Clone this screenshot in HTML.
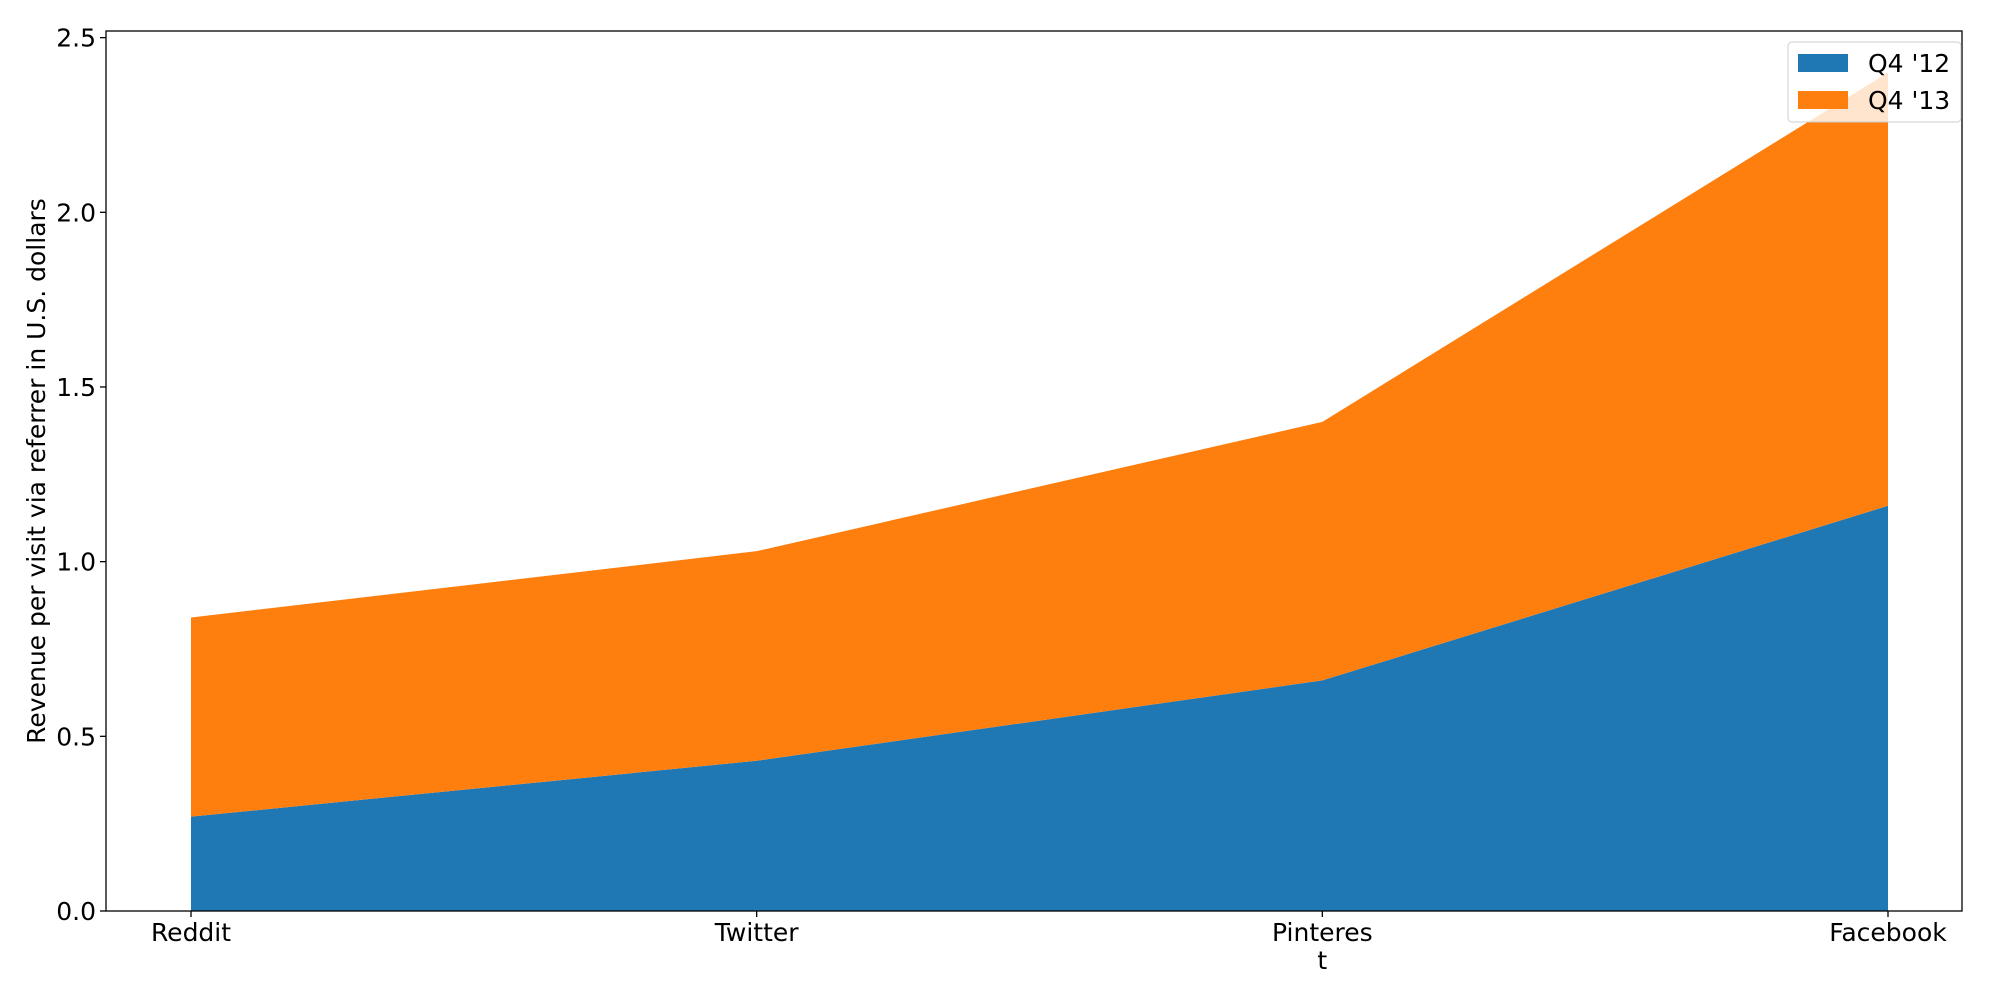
<!DOCTYPE html>
<html><head><meta charset="utf-8"><style>
body{margin:0;background:#fff}
svg text{font-family:"DejaVu Sans","Liberation Sans",sans-serif;fill:#000}
</style></head><body>
<svg id="chart" width="2000" height="1000"></svg>
<script>
const categories=["Reddit","Twitter","Pinteres\nt","Facebook"];
const q412=[0.27,0.43,0.66,1.16];
const q413=[0.57,0.60,0.74,1.24];
const yTicks=[0,0.5,1.0,1.5,2.0,2.5];
const yTickLabels=["0.0","0.5","1.0","1.5","2.0","2.5"];
const L=106,R=1962,T=31,B=911,yMax=2.519;
const x0=191,x1=1888;
const svg=document.getElementById('chart');
const NS='http://www.w3.org/2000/svg';
function xs(i){return x0+(x1-x0)*i/(categories.length-1);}
function ys(v){return B-(B-T)*v/yMax;}
function mk(t,a){const e=document.createElementNS(NS,t);for(const k in a)e.setAttribute(k,a[k]);svg.appendChild(e);return e;}
const top1=q412.map(v=>v), top2=q412.map((v,i)=>v+q413[i]);
function area(lo,hi){let p='';hi.forEach((v,i)=>p+=(i?'L':'M')+xs(i)+','+ys(v));for(let i=lo.length-1;i>=0;i--)p+='L'+xs(i)+','+ys(lo[i]);return p+'Z';}
const a1=mk('path',{d:area(q412.map(()=>0),top1),fill:'#1f77b4'});


const a2=mk('path',{d:area(top1,top2),fill:'#ff7f0e'});


const fr=mk('rect',{x:L,y:T,width:R-L,height:B-T,fill:'none',stroke:'#000','stroke-width':1.3});


yTicks.forEach((v,i)=>{
  mk('line',{x1:L-6,x2:L,y1:ys(v),y2:ys(v),stroke:'#000','stroke-width':1.3});
  const t=mk('text',{x:L-10,y:ys(v)+9,'text-anchor':'end','font-size':25});
  t.textContent=yTickLabels[i];
  
  
});
categories.forEach((c,i)=>{
  mk('line',{x1:xs(i),x2:xs(i),y1:B,y2:B+6,stroke:'#000','stroke-width':1.3});
  c.split('\n').forEach((ln,j)=>{
    const t=mk('text',{x:xs(i),y:B+30+j*28,'text-anchor':'middle','font-size':25});
    t.textContent=ln;
    
    
  });
});
const yl=mk('text',{x:0,y:0,'text-anchor':'middle','font-size':25,transform:'translate(45,'+((T+B)/2)+') rotate(-90)'});
yl.textContent='Revenue per visit via referrer in U.S. dollars';


const lg=mk('rect',{x:1788,y:42,width:173,height:80,rx:4,fill:'#fff','fill-opacity':0.8,stroke:'#ccc'});


[['#1f77b4',"Q4 '12"],['#ff7f0e',"Q4 '13"]].forEach((e,i)=>{
  mk('rect',{x:1798,y:54+i*37,width:50,height:18,fill:e[0]});
  const t=mk('text',{x:1868,y:72+i*37,'font-size':25});
  t.textContent=e[1];
  
  
});
</script>
</body></html>
